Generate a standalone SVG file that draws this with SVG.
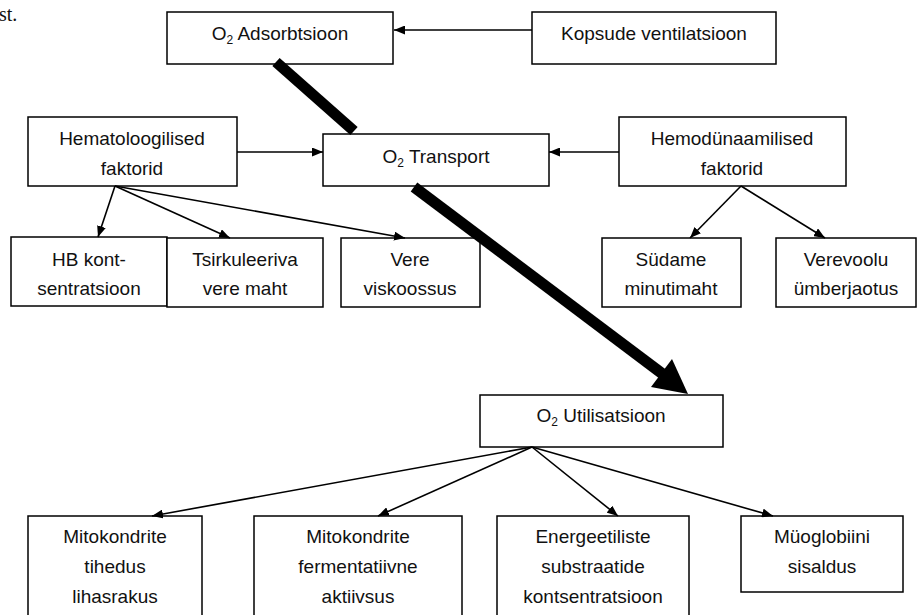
<svg xmlns="http://www.w3.org/2000/svg" width="918" height="615" viewBox="0 0 918 615">
<style>
.box{fill:#fff;stroke:#000;stroke-width:1.5}
.t{font-family:"Liberation Sans",Arial,sans-serif;font-size:19px;fill:#111;text-anchor:middle}
.sub{font-size:12px}
.c{stroke:#000;stroke-width:1.6;fill:none;marker-end:url(#ah)}
.thick{stroke:#000;stroke-width:11;fill:none}
</style>
<defs>
<marker id="ah" viewBox="0 0 11 9" refX="11" refY="4.5" markerWidth="11" markerHeight="9" markerUnits="userSpaceOnUse" orient="auto">
<path d="M0,0 L11,4.5 L0,9 Z" fill="#000"/>
</marker>
</defs>
<rect width="918" height="615" fill="#fff"/>
<text x="-1" y="21" font-family="'Liberation Serif','Times New Roman',serif" font-size="20" fill="#111">st.</text>

<g id="adsorbtsioon"><rect class="box" x="167" y="12" width="226" height="52"/><text class="t" x="280" y="40">O<tspan class="sub" dy="4">2</tspan><tspan dy="-4"> Adsorbtsioon</tspan></text></g>
<g id="kopsude"><rect class="box" x="532" y="12" width="244" height="52"/><text class="t" x="654" y="40">Kopsude ventilatsioon</text></g>
<g id="hematoloogilised"><rect class="box" x="28" y="117" width="209" height="69"/><text class="t" x="132" y="145">Hematoloogilised</text><text class="t" x="132" y="175">faktorid</text></g>
<g id="transport"><rect class="box" x="323" y="134" width="226" height="52"/><text class="t" x="436" y="163">O<tspan class="sub" dy="4">2</tspan><tspan dy="-4"> Transport</tspan></text></g>
<g id="hemodynaamilised"><rect class="box" x="619" y="117" width="227" height="69"/><text class="t" x="732" y="145">Hemodünaamilised</text><text class="t" x="732" y="175">faktorid</text></g>
<g id="hb"><rect class="box" x="11" y="237" width="156" height="69"/><text class="t" x="89" y="266">HB kont-</text><text class="t" x="89" y="295">sentratsioon</text></g>
<g id="tsirkuleeriva"><rect class="box" x="167" y="238" width="156" height="69"/><text class="t" x="245" y="266">Tsirkuleeriva</text><text class="t" x="245" y="295">vere maht</text></g>
<g id="vere"><rect class="box" x="341" y="238" width="139" height="69"/><text class="t" x="410" y="266">Vere</text><text class="t" x="410" y="295">viskoossus</text></g>
<g id="sudame"><rect class="box" x="602" y="238" width="139" height="69"/><text class="t" x="671" y="266">Südame</text><text class="t" x="671" y="295">minutimaht</text></g>
<g id="verevoolu"><rect class="box" x="776" y="238" width="140" height="69"/><text class="t" x="846" y="266">Verevoolu</text><text class="t" x="846" y="295">ümberjaotus</text></g>
<g id="utilisatsioon"><rect class="box" x="480" y="395" width="243" height="52"/><text class="t" x="601" y="422">O<tspan class="sub" dy="4">2</tspan><tspan dy="-4"> Utilisatsioon</tspan></text></g>
<g id="tihedus"><rect class="box" x="28" y="516" width="174" height="104"/><text class="t" x="115" y="543">Mitokondrite</text><text class="t" x="115" y="573">tihedus</text><text class="t" x="115" y="603">lihasrakus</text></g>
<g id="fermentatiivne"><rect class="box" x="254" y="516" width="208" height="104"/><text class="t" x="358" y="543">Mitokondrite</text><text class="t" x="358" y="573">fermentatiivne</text><text class="t" x="358" y="603">aktiivsus</text></g>
<g id="energeetiliste"><rect class="box" x="497" y="516" width="192" height="104"/><text class="t" x="593" y="543">Energeetiliste</text><text class="t" x="593" y="573">substraatide</text><text class="t" x="593" y="603">kontsentratsioon</text></g>
<g id="myoglobiini"><rect class="box" x="741" y="516" width="162" height="76"/><text class="t" x="822" y="543">Müoglobiini</text><text class="t" x="822" y="573">sisaldus</text></g>

<g id="connectors">
<line class="c" x1="532" y1="30" x2="394" y2="30"/>
<line class="c" x1="237" y1="152" x2="323" y2="152"/>
<line class="c" x1="619" y1="152" x2="549" y2="152"/>
<line class="c" x1="115" y1="186" x2="98" y2="237"/>
<line class="c" x1="115" y1="186" x2="230" y2="238"/>
<line class="c" x1="115" y1="186" x2="405" y2="238"/>
<line class="c" x1="741" y1="186" x2="690" y2="238"/>
<line class="c" x1="741" y1="186" x2="825" y2="238"/>
<line class="c" x1="532" y1="447" x2="152" y2="516"/>
<line class="c" x1="532" y1="447" x2="378" y2="516"/>
<line class="c" x1="532" y1="447" x2="618" y2="516"/>
<line class="c" x1="532" y1="447" x2="773" y2="516"/>
<line class="thick" x1="276" y1="62" x2="354" y2="131"/>
<line class="thick" x1="414" y1="187" x2="664" y2="375"/>
<polygon points="651,387 672,359 688,394" fill="#000"/>
</g>
</svg>
